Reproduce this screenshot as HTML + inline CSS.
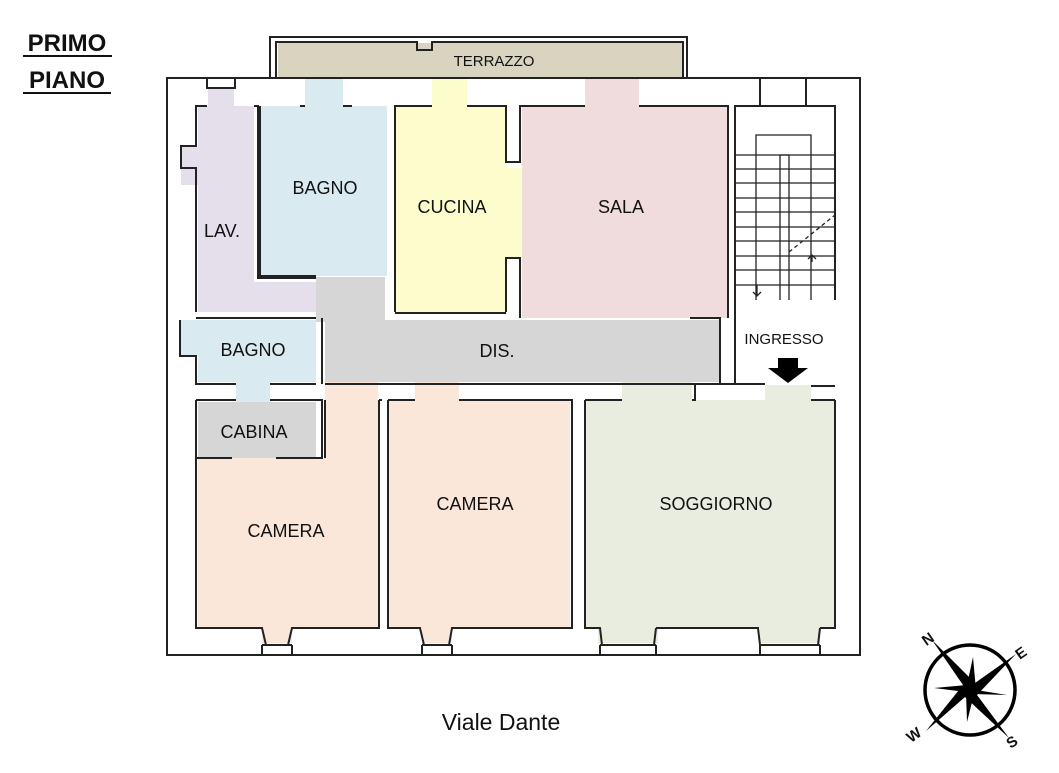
<!DOCTYPE html>
<html><head><meta charset="utf-8"><style>
body{margin:0;background:#fff;width:1059px;height:773px;overflow:hidden}
svg{display:block}
text{font-family:"Liberation Sans",sans-serif;fill:#111}
</style></head><body>
<svg width="1059" height="773" viewBox="0 0 1059 773">
<!-- fills -->
<rect x="278" y="43" width="406" height="34" fill="#d8d4c0"/>
<g fill="#e4dfea"><rect x="198" y="106" width="56" height="206"/><rect x="198" y="282" width="124" height="30"/><rect x="181" y="147" width="18" height="38"/><rect x="208" y="88" width="26" height="20"/></g>
<g fill="#d9eaf0"><rect x="261" y="106" width="126" height="170"/><rect x="305" y="78" width="38" height="30"/><rect x="198" y="320" width="118" height="62"/><rect x="181" y="320" width="18" height="36"/><rect x="236" y="380" width="34" height="22"/></g>
<g fill="#fdfccc"><rect x="396" y="106" width="110" height="207"/><rect x="432" y="78" width="35" height="30"/><rect x="505" y="168" width="18" height="90"/></g>
<g fill="#f0dcdc"><rect x="522" y="106" width="206" height="212"/><rect x="585" y="78" width="54" height="30"/></g>
<g fill="#d6d6d6"><rect x="325" y="320" width="395" height="62"/><rect x="316" y="277" width="69" height="45"/><rect x="198" y="402" width="118" height="56"/></g>
<g fill="#fbe6da"><rect x="198" y="458" width="180" height="170"/><rect x="325" y="382" width="53" height="80"/><rect x="262" y="625" width="30" height="18"/><rect x="389" y="400" width="181" height="228"/><rect x="415" y="382" width="44" height="20"/><rect x="422" y="625" width="30" height="18"/></g>
<g fill="#e9eddf"><rect x="585" y="400" width="251" height="228"/><rect x="622" y="382" width="70" height="20"/><rect x="765" y="385" width="46" height="17"/><rect x="598" y="625" width="60" height="18"/><rect x="760" y="625" width="60" height="18"/></g>
<!-- walls -->
<g fill="none" stroke="#222" stroke-width="2">
<path d="M270,78 V37 H687 V78"/><path d="M276,78 V42 H417 V50 H432 V42 H683 V78"/>
<rect x="167" y="78" width="693" height="577"/>
<path d="M207,78 V88 H235 V78"/><path d="M760,78 V106"/><path d="M806,78 V106"/>
<path d="M196,312 V168 H181 V146 H196 V106 H207"/><path d="M254,106 H258 V278 H316"/>
<path d="M260,106 V276 H316"/><path d="M305,106 H300"/><path d="M343,106 H352"/>
<path d="M395,312 V106 H432"/><path d="M467,106 H506 V162 H520 V106 H585"/><path d="M639,106 H728 V318"/><path d="M506,312 V258 H520 V318"/>
<path d="M196,318 H316"/><path d="M322,318 V384"/><path d="M180,320 V356 H196 V384 H236"/><path d="M270,384 H316"/>
<path d="M395,313 H506"/>
<path d="M690,318 H720 V384 H325"/>
<path d="M196,400 H236"/><path d="M270,400 H322 V458 H276"/><path d="M196,400 V628 H262 L266,645"/><path d="M232,458 H196"/>
<path d="M379,400 V628 H292 L288,645"/><path d="M325,400 V458"/><path d="M379,400 H382"/>
<path d="M388,400 H415"/><path d="M459,400 H572 V628 H452 L449,645"/><path d="M388,400 V628 H420 L424,645"/>
<path d="M585,400 H622"/><path d="M692,400 H695 V384 H765"/><path d="M811,386 H835 M811,400 H835"/>
<path d="M585,400 V628 H600 L602,645"/><path d="M656,628 L654,645 M656,628 H758 L760,645"/><path d="M820,628 L818,645 M820,628 H835 V400"/>
<path d="M262,645 V655 M292,645 V655 M422,645 V655 M452,645 V655 M600,645 V655 M656,645 V655 M760,645 V655 M820,645 V655"/>
<path d="M262,645 H292 M422,645 H452 M600,645 H656 M760,645 H820"/>
<path d="M735,384 V106 H835 V300"/><path d="M735,384 H765"/>
</g>
<!-- stairs -->
<g fill="none" stroke="#222" stroke-width="1.3">
<path d="M756,300 V135 H811 V300"/><path d="M780,155 V300 M789,155 V300 M780,155 H789"/>
<path d="M735,155 H835 M735,169 H835 M735,183 H835 M735,198 H835 M735,212 H835 M735,227 H835 M735,241 H835 M735,256 H835 M735,270 H835 M735,285 H835"/>
<path d="M789,252 L835,215" stroke-dasharray="4,3"/><path d="M812,262 V255 M808,259 L812,255 L816,259"/><path d="M757,285 V296 M753,292 L757,296 L761,292"/>
</g>
<path d="M778,358 H798 V368 H808 L788,383 L768,368 H778 Z" fill="#000"/>
<!-- labels -->
<text x="494" y="66" font-size="15" text-anchor="middle">TERRAZZO</text>
<text x="325" y="194" font-size="18" text-anchor="middle">BAGNO</text>
<text x="452" y="213" font-size="18" text-anchor="middle">CUCINA</text>
<text x="621" y="213" font-size="18" text-anchor="middle">SALA</text>
<text x="222" y="237" font-size="18" text-anchor="middle">LAV.</text>
<text x="253" y="356" font-size="18" text-anchor="middle">BAGNO</text>
<text x="497" y="357" font-size="18" text-anchor="middle">DIS.</text>
<text x="784" y="344" font-size="15" text-anchor="middle">INGRESSO</text>
<text x="254" y="438" font-size="18" text-anchor="middle">CABINA</text>
<text x="286" y="537" font-size="18" text-anchor="middle">CAMERA</text>
<text x="475" y="510" font-size="18" text-anchor="middle">CAMERA</text>
<text x="716" y="510" font-size="18" text-anchor="middle">SOGGIORNO</text>
<text x="501" y="730" font-size="23" text-anchor="middle">Viale Dante</text>
<text x="67" y="51" font-size="24" font-weight="bold" text-anchor="middle">PRIMO</text>
<text x="67" y="88" font-size="24" font-weight="bold" text-anchor="middle">PIANO</text>
<path d="M23,56 H112 M23,93 H111" stroke="#111" stroke-width="2"/>
<!-- compass -->
<circle cx="970" cy="690" r="45" fill="none" stroke="#000" stroke-width="3.5"/>
<path d="M932,640 L975,683 L1016,654 L977,695 L1009,738 L965,697 L926,731 L963,685 Z" fill="#000"/>
<path d="M973,657 L976,690 L1007,695 L974,694 L967,722 L966,692 L934,688 L967,685 Z" fill="#000"/>
<g font-size="15" font-weight="bold" text-anchor="middle">
<text x="928" y="644" transform="rotate(-35 928 639)">N</text>
<text x="1021" y="658" transform="rotate(-35 1021 653)">E</text>
<text x="1012" y="747" transform="rotate(-35 1012 742)">S</text>
<text x="914" y="740" transform="rotate(-35 914 735)">W</text>
</g>
</svg>
</body></html>
